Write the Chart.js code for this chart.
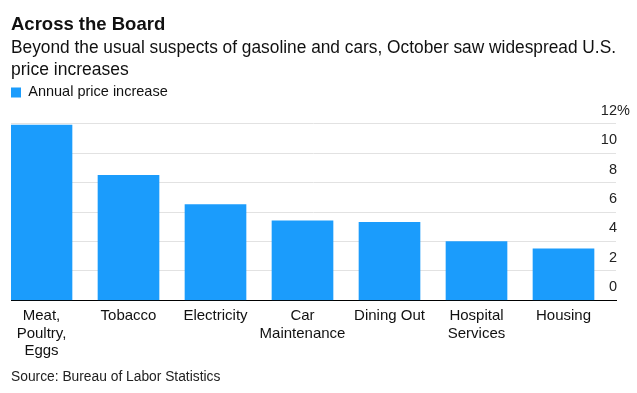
<!DOCTYPE html>
<html>
<head>
<meta charset="utf-8">
<script src="https://cdn.jsdelivr.net/npm/chart.js@4/dist/chart.umd.min.js"></script>
<style>
  body { margin: 0; background: #fff; }
  #wrap { position: relative; width: 637px; height: 393px; }
  #source { position: absolute; left: 11px; top: 369px; font: 13.8px "Liberation Sans", Arial, sans-serif; color: #222; }
</style>
</head>
<body>
<div id="wrap">
  <canvas id="chartBar" width="637" height="393"></canvas>
  <div id="source">Source: Bureau of Labor Statistics</div>
</div>
<script>
const categories = [
    ['Meat,', 'Poultry,', 'Eggs'],
    ['Tobacco'],
    ['Electricity'],
    ['Car', 'Maintenance'],
    ['Dining Out'],
    ['Hospital', 'Services'],
    ['Housing']
];
const priceIncrease = [11.9, 8.5, 6.5, 5.4, 5.3, 4.0, 3.5];
const yTicks = [0, 2, 4, 6, 8, 10, 12];

const FONT = '"Liberation Sans", Arial, sans-serif';
const BLUE = '#1b9cfc';

var ctx = document.getElementById('chartBar').getContext('2d');

// y labels sit on top of the grid lines, right aligned at the end of the lines
const yLabels = {
    id: 'yLabels',
    afterDraw(chart) {
        const s = chart.scales.y;
        const c = chart.ctx;
        const right = chart.chartArea.right + 1;
        c.save();
        c.font = '14.5px ' + FONT;
        c.fillStyle = '#222';
        c.textBaseline = 'middle';
        yTicks.forEach(v => {
            const y = s.getPixelForValue(v) - 13;
            c.textAlign = 'right';
            c.fillText(String(v), right, y);
            if (v === yTicks[yTicks.length - 1]) {
                c.textAlign = 'left';
                c.fillText('%', right, y);
            }
        });
        c.restore();
    }
};

const legendSpace = {
    id: 'legendSpace',
    beforeInit(chart) {
        const fit = chart.legend.fit;
        chart.legend.fit = function () {
            fit.bind(chart.legend)();
            this.height += 14;
        };
    }
};

var chart = new Chart(ctx, {
    type: 'bar',
    data: {
        datasets: [{
            label: 'Annual price increase',
            backgroundColor: BLUE,
            borderWidth: 0,
            barThickness: 61,
            data: priceIncrease.map((v, i) => ({ x: i, y: v }))
        }]
    },
    options: {
        responsive: false,
        devicePixelRatio: 1,
        animation: false,
        layout: { padding: { left: 11, right: 21, top: 0, bottom: 26 } },
        plugins: {
            tooltip: { enabled: false },
            title: {
                display: true,
                align: 'start',
                text: 'Across the Board',
                color: '#111',
                font: { family: FONT, size: 18.5, weight: 'bold' },
                padding: { top: 14, bottom: 0 }
            },
            subtitle: {
                display: true,
                align: 'start',
                text: ['Beyond the usual suspects of gasoline and cars, October saw widespread U.S.', 'price increases'],
                color: '#111',
                font: { family: FONT, size: 17.5, lineHeight: 1.257 },
                padding: { top: 1, bottom: 4 }
            },
            legend: {
                display: true,
                align: 'start',
                labels: {
                    boxWidth: 10,
                    boxHeight: 10,
                    padding: 0,
                    color: '#111',
                    font: { family: FONT, size: 14.5 }
                }
            }
        },
        scales: {
            x: {
                type: 'linear',
                offset: false,
                min: -0.3506,
                max: 6.6034,
                z: 1,
                afterBuildTicks: s => { s.ticks = categories.map((c, i) => ({ value: i })); },
                grid: { display: false, drawTicks: false, tickLength: 0 },
                border: { display: true, color: '#000', width: 1 },
                ticks: {
                    autoSkip: false,
                    maxRotation: 0,
                    padding: 7,
                    color: '#111',
                    font: { family: FONT, size: 15, lineHeight: 1.17 },
                    callback: v => categories[v] || ''
                }
            },
            y: {
                min: 0,
                max: 12,
                grid: { color: '#e2e2e2', lineWidth: 1, drawTicks: false },
                border: { display: false },
                ticks: { display: false, stepSize: 2 }
            }
        }
    },
    plugins: [yLabels, legendSpace]
});
</script>
</body>
</html>
